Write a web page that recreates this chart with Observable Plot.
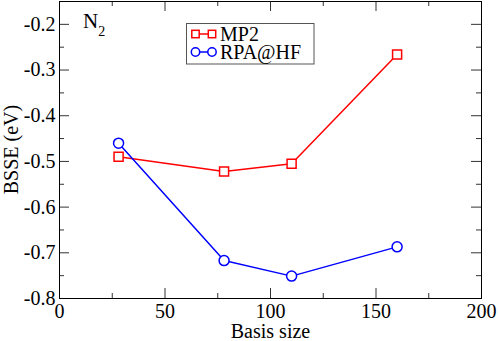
<!DOCTYPE html>
<html><head><meta charset="utf-8">
<script src="https://cdn.jsdelivr.net/npm/d3@7"></script>
<script src="https://cdn.jsdelivr.net/npm/@observablehq/plot@0.6"></script>
<style>
body{margin:0;background:#fff}
</style>
</head><body><div id="chart"></div>
<script>
// Data
const basis = [28, 78, 110, 160];
const mp2 = [-0.490, -0.522, -0.505, -0.266];
const rpa = [-0.460, -0.717, -0.751, -0.687];
const seriesNames = ["MP2", "RPA@HF"];
const seriesColors = ["#ff0000", "#0000ff"];
const xMajor = [0, 50, 100, 150, 200];
const xMinor = [25, 75, 125, 175];
const yMajor = [-0.8, -0.7, -0.6, -0.5, -0.4, -0.3, -0.2];
const yMinor = [-0.75, -0.65, -0.55, -0.45, -0.35, -0.25];
const xTitle = "Basis size";
const yTitle = "BSSE (eV)";

const mp2Data = basis.map((b, i) => ({basis: b, bsse: mp2[i], series: seriesNames[0]}));
const rpaData = basis.map((b, i) => ({basis: b, bsse: rpa[i], series: seriesNames[1]}));

const W = 498, H = 341, mL = 59, mR = 17, mT = 1, mB = 43;
const pw = W - mL - mR, ph = H - mT - mB;
const SERIF = "Liberation Serif";

const chart = Plot.plot({
  width: W, height: H,
  marginLeft: mL, marginRight: mR, marginTop: mT, marginBottom: mB,
  style: {fontSize: "20px", fontFamily: SERIF, color: "black", background: "white"},
  x: {domain: [0, 200]},
  y: {domain: [-0.8, -0.15]},
  marks: [
    // inward ticks on all four sides
    Plot.tickX(xMajor, {x: d => d, insetTop: ph - 10, stroke: "#333"}),
    Plot.tickX(xMinor, {x: d => d, insetTop: ph - 5, stroke: "#333"}),
    Plot.tickX(xMajor, {x: d => d, insetBottom: ph - 10, stroke: "#333"}),
    Plot.tickX(xMinor, {x: d => d, insetBottom: ph - 5, stroke: "#333"}),
    Plot.tickY(yMajor, {y: d => d, insetRight: pw - 10, stroke: "#333"}),
    Plot.tickY(yMinor, {y: d => d, insetRight: pw - 5, stroke: "#333"}),
    Plot.tickY(yMajor, {y: d => d, insetLeft: pw - 10, stroke: "#333"}),
    Plot.tickY(yMinor, {y: d => d, insetLeft: pw - 5, stroke: "#333"}),
    Plot.axisX(xMajor, {tickSize: 0, tickPadding: 5, fontSize: 20, fontFamily: SERIF, tickFormat: d => String(d), label: null}),
    Plot.axisY(yMajor, {tickSize: 0, tickPadding: 4, fontSize: 20, fontFamily: SERIF, tickFormat: d => d.toFixed(1), label: null}),
    Plot.frame({stroke: "black"}),
    Plot.line(mp2Data, {x: "basis", y: "bsse", stroke: seriesColors[0], strokeWidth: 1.5}),
    Plot.line(rpaData, {x: "basis", y: "bsse", stroke: seriesColors[1], strokeWidth: 1.5}),
    Plot.dot(mp2Data, {x: "basis", y: "bsse", symbol: "square", r: 5.1, stroke: seriesColors[0], fill: "white", strokeWidth: 1.5}),
    Plot.dot(rpaData, {x: "basis", y: "bsse", symbol: "circle", r: 5, stroke: seriesColors[1], fill: "white", strokeWidth: 1.5})
  ]
});
document.getElementById("chart").appendChild(chart);

// annotations, titles and legend
const svg = d3.select(chart);
const g = svg.append("g").attr("fill", "black");
g.append("text").attr("x", mL + pw / 2 + 0.5).attr("y", 338).attr("text-anchor", "middle")
  .attr("font-size", 20).text(xTitle);
g.append("text").attr("transform", `translate(18,${mT + ph / 2}) rotate(-90)`).attr("text-anchor", "middle")
  .attr("font-size", 20).text(yTitle);
const n2 = g.append("text").attr("x", 83).attr("y", 28).attr("font-size", 21).attr("text-anchor", "start");
n2.append("tspan").text("N");
n2.append("tspan").attr("dy", 8).attr("font-size", 14).text("2");

const lg = svg.append("g");
lg.append("rect").attr("x", 186.5).attr("y", 23.5).attr("width", 127.5).attr("height", 40.5)
  .attr("fill", "white").attr("stroke", "#555").attr("stroke-width", 1);
seriesNames.forEach((name, i) => {
  const cy = 34 + i * 18;
  const c = seriesColors[i];
  lg.append("line").attr("x1", 195.5).attr("x2", 212).attr("y1", cy).attr("y2", cy).attr("stroke", c).attr("stroke-width", 1.5);
  [195.5, 212].forEach(cx => {
    if (i === 0) lg.append("rect").attr("x", cx - 3.7).attr("y", cy - 3.7).attr("width", 7.4).attr("height", 7.4)
      .attr("fill", "white").attr("stroke", c).attr("stroke-width", 1.5);
    else lg.append("circle").attr("cx", cx).attr("cy", cy).attr("r", 4.2)
      .attr("fill", "white").attr("stroke", c).attr("stroke-width", 1.5);
  });
  lg.append("text").attr("x", 220).attr("y", cy + 7).attr("font-size", 20).attr("text-anchor", "start").attr("fill", "black").text(name);
});

// make sure every text uses the serif face
chart.querySelectorAll("text, tspan").forEach(t => {
  t.setAttribute("font-family", SERIF);
  t.style.setProperty("font-family", SERIF);
});
</script>
</body></html>
